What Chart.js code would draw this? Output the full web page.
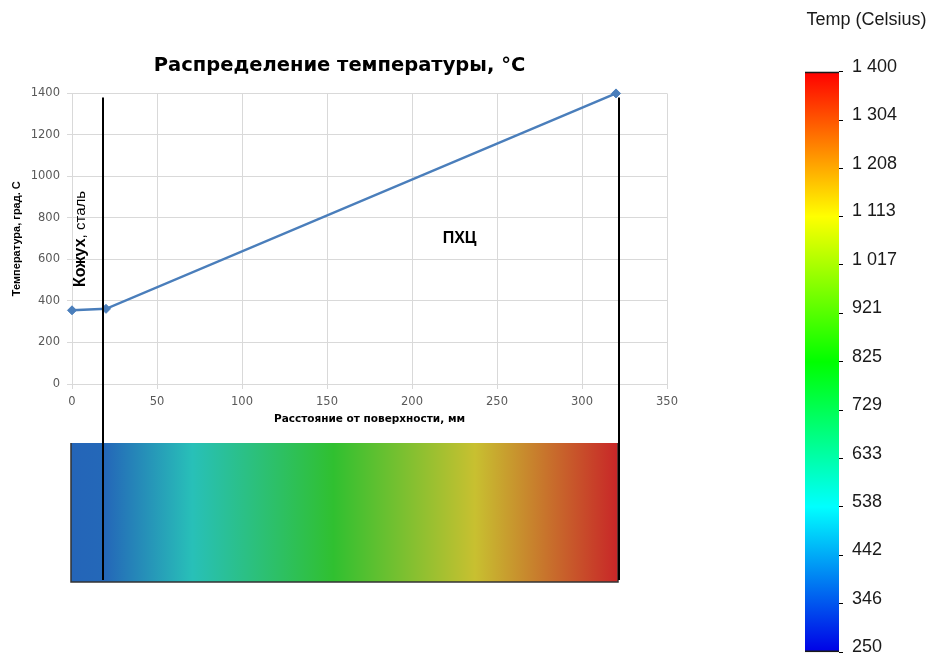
<!DOCTYPE html>
<html lang="ru">
<head>
<meta charset="utf-8">
<title>Распределение температуры</title>
<script src="https://cdn.jsdelivr.net/npm/chart.js@4.4.1/dist/chart.umd.min.js"></script>
<style>
    html, body { margin: 0; padding: 0; background: #fff; }
    body { width: 928px; height: 655px; position: relative; overflow: hidden; }
    #tempWrap { position: absolute; left: 0; top: 0; width: 700px; height: 600px; }
    #scaleWrap { position: absolute; left: 780px; top: 0; width: 148px; height: 672px; }
</style>
</head>
<body>
<div id="tempWrap"><canvas id="tempChart"></canvas></div>
<div id="scaleWrap"><canvas id="scaleChart"></canvas></div>
<script>
// Distance from the surface, mm
const distances = [0, 20, 320];
// Temperature at each distance, °C
const temperatures = [355, 362, 1400];

// Axis ticks of the profile chart
const xTicks = [0, 50, 100, 150, 200, 250, 300, 350];
const yTicks = [0, 200, 400, 600, 800, 1000, 1200, 1400];

// Layer borders (black verticals), mm
const layerBorders = [18, 322];

// Colour scale ticks, °C
const scaleTicks = [250, 346, 442, 538, 633, 729, 825, 921, 1017, 1113, 1208, 1304, 1400];
// Colour map stops: temperature -> colour (legend bar and the muted section strip)
const colorStopTemps = [250, 538, 825, 1113, 1400];
const barColors = ['#0000e6', '#00ffff', '#00ff00', '#ffff00', '#ff0000'];
const stripColors = ['#2230b8', '#28c0b8', '#30c030', '#c8c030', '#c82828'];

const FONT = 'Liberation Sans, Arial, sans-serif';
const WIDE = 'DejaVu Sans, Verdana, sans-serif';

function hexToRgb(hex) {
    const n = parseInt(hex.slice(1), 16);
    return [(n >> 16) & 255, (n >> 8) & 255, n & 255];
}

// Interpolate a colour for a temperature from the colour map
function colorAt(temp, colors) {
    const t = Math.min(Math.max(temp, colorStopTemps[0]), colorStopTemps[colorStopTemps.length - 1]);
    let i = 0;
    while (i < colorStopTemps.length - 2 && t > colorStopTemps[i + 1]) i++;
    const f = (t - colorStopTemps[i]) / (colorStopTemps[i + 1] - colorStopTemps[i]);
    const a = hexToRgb(colors[i]), b = hexToRgb(colors[i + 1]);
    const c = a.map((v, k) => Math.round(v + (b[k] - v) * f));
    return `rgb(${c[0]}, ${c[1]}, ${c[2]})`;
}

// Format number with a space as thousands separator (1 400)
function formatRu(v) {
    return String(Math.round(v)).replace(/\B(?=(\d{3})+(?!\d))/g, ' ');
}

// Horizontal gradient of the section strip, following the temperature profile
function stripGradient(ctx, xScale, x0, x1) {
    const g = ctx.createLinearGradient(x0, 0, x1, 0);
    const span = x1 - x0;
    const addStop = (mm, t) => {
        const pos = (xScale.getPixelForValue(mm) - x0) / span;
        g.addColorStop(Math.min(Math.max(pos, 0), 1), colorAt(t, stripColors));
    };
    for (let i = 0; i < distances.length - 1; i++) {
        const d0 = distances[i], d1 = distances[i + 1];
        const t0 = temperatures[i], t1 = temperatures[i + 1];
        addStop(d0, t0);
        colorStopTemps.forEach(t => {
            if ((t - t0) * (t - t1) < 0) {
                addStop(d0 + (t - t0) / (t1 - t0) * (d1 - d0), t);
            }
        });
        addStop(d1, t1);
    }
    return g;
}

// Draws the coloured section, layer borders and layer captions
const sectionPlugin = {
    id: 'section',
    afterDatasetsDraw(chart) {
        const { ctx, chartArea, scales: { x, y } } = chart;
        const left = x.getPixelForValue(distances[0]) - 1;
        const right = x.getPixelForValue(distances[distances.length - 1]) + 2;
        const top = chartArea.bottom + 59;
        const bottom = chartArea.bottom + 198;

        ctx.save();
        ctx.fillStyle = stripGradient(ctx, x, left, right);
        ctx.fillRect(left, top, right - left, bottom - top);

        ctx.strokeStyle = '#333';
        ctx.lineWidth = 1.5;
        ctx.beginPath();
        ctx.moveTo(left, top);
        ctx.lineTo(left, bottom);
        ctx.lineTo(right, bottom);
        ctx.lineTo(right, top);
        ctx.stroke();

        // layer borders
        ctx.strokeStyle = '#000';
        ctx.lineWidth = 2;
        layerBorders.forEach(mm => {
            const px = Math.round(x.getPixelForValue(mm));
            ctx.beginPath();
            ctx.moveTo(px, y.getPixelForValue(1380));
            ctx.lineTo(px, bottom - 2);
            ctx.stroke();
        });

        // "ПХЦ"
        ctx.fillStyle = '#000';
        ctx.font = `bold 16px ${FONT}`;
        ctx.textAlign = 'center';
        ctx.textBaseline = 'middle';
        ctx.fillText('ПХЦ', x.getPixelForValue(228), y.getPixelForValue(700));

        // "Кожух, сталь" rotated
        ctx.translate(x.getPixelForValue(7.5), y.getPixelForValue(467));
        ctx.rotate(-Math.PI / 2);
        ctx.textAlign = 'left';
        ctx.textBaseline = 'alphabetic';
        ctx.font = `bold 16px ${FONT}`;
        ctx.fillText('Кожух', 0, 0);
        const w = ctx.measureText('Кожух').width;
        ctx.font = `15px ${FONT}`;
        ctx.fillText(', сталь', w, 0);
        ctx.restore();
    }
};

new Chart(document.getElementById('tempChart'), {
    type: 'line',
    data: {
        datasets: [{
            data: distances.map((d, i) => ({ x: d, y: temperatures[i] })),
            borderColor: '#4a7ebb',
            backgroundColor: '#4a7ebb',
            borderWidth: 2.5,
            pointStyle: 'rectRot',
            pointRadius: 4.5,
            pointBorderWidth: 1,
            tension: 0,
            clip: false
        }]
    },
    options: {
        responsive: true,
        maintainAspectRatio: false,
        animation: false,
        layout: { padding: { left: 12, right: 33, top: 0, bottom: 170 } },
        plugins: {
            legend: { display: false },
            tooltip: { enabled: false },
            title: {
                display: true,
                text: 'Распределение температуры, °C',
                color: '#000',
                font: { family: WIDE, size: 19.5, weight: 'bold' },
                padding: { top: 54, bottom: 16 }
            }
        },
        scales: {
            x: {
                type: 'linear',
                min: 0,
                max: 350,
                afterBuildTicks: s => { s.ticks = xTicks.map(v => ({ value: v })); },
                afterFit: s => { s.height = 46; },
                grid: { color: '#d9d9d9', tickLength: 5 },
                border: { color: '#d9d9d9' },
                ticks: { color: '#595959', font: { family: WIDE, size: 11.5 }, padding: 6, maxRotation: 0, callback: v => String(v) },
                title: {
                    display: true,
                    text: 'Расстояние от поверхности, мм',
                    color: '#000',
                    font: { family: WIDE, size: 10.5, weight: 'bold' },
                    padding: { top: 4, bottom: 4 }
                }
            },
            y: {
                min: 0,
                max: 1400,
                afterBuildTicks: s => { s.ticks = yTicks.map(v => ({ value: v })); },
                afterFit: s => { s.width = 60; },
                grid: { color: '#d9d9d9', tickLength: 5 },
                border: { color: '#d9d9d9' },
                ticks: { color: '#595959', font: { family: WIDE, size: 11.5 }, padding: 7, callback: v => String(v) },
                title: {
                    display: true,
                    text: 'Температура, град. С',
                    color: '#000',
                    font: { family: FONT, size: 11, weight: 'bold' },
                    padding: { top: -2, bottom: 0 }
                }
            }
        }
    },
    plugins: [sectionPlugin]
});

// Vertical gradient for the colour legend bar
function barGradient(chart) {
    const { ctx, chartArea, scales: { y } } = chart;
    if (!chartArea) return barColors[0];
    const g = ctx.createLinearGradient(0, chartArea.bottom, 0, chartArea.top);
    const span = chartArea.bottom - chartArea.top;
    colorStopTemps.forEach((t, i) => {
        g.addColorStop((chartArea.bottom - y.getPixelForValue(t)) / span, barColors[i]);
    });
    return g;
}

new Chart(document.getElementById('scaleChart'), {
    type: 'bar',
    data: {
        labels: [''],
        datasets: [{
            data: [[scaleTicks[0], scaleTicks[scaleTicks.length - 1]]],
            backgroundColor: ctx => barGradient(ctx.chart),
            borderColor: '#1a1a1a',
            borderWidth: { top: 2, bottom: 2, left: 0, right: 0 },
            borderSkipped: false,
            barPercentage: 1,
            categoryPercentage: 1
        }]
    },
    options: {
        responsive: true,
        maintainAspectRatio: false,
        animation: false,
        layout: { padding: { left: 25, right: 0, top: 0, bottom: 0 } },
        plugins: {
            legend: { display: false },
            tooltip: { enabled: false },
            title: {
                display: true,
                text: 'Temp (Celsius)',
                color: '#1a1a1a',
                font: { family: FONT, size: 18, weight: 'normal' },
                padding: { top: 9, bottom: 41 }
            }
        },
        scales: {
            x: { display: false },
            y: {
                position: 'right',
                min: scaleTicks[0],
                max: scaleTicks[scaleTicks.length - 1],
                afterBuildTicks: s => { s.ticks = scaleTicks.map(v => ({ value: v })); },
                afterFit: s => { s.width = 89; },
                grid: { drawOnChartArea: false, drawTicks: true, tickLength: 4, color: '#000' },
                border: { display: false },
                ticks: {
                    padding: 9,
                    labelOffset: -5,
                    color: '#1a1a1a',
                    font: { family: FONT, size: 18 },
                    callback: v => formatRu(v)
                }
            }
        }
    }
});
</script>
</body>
</html>
